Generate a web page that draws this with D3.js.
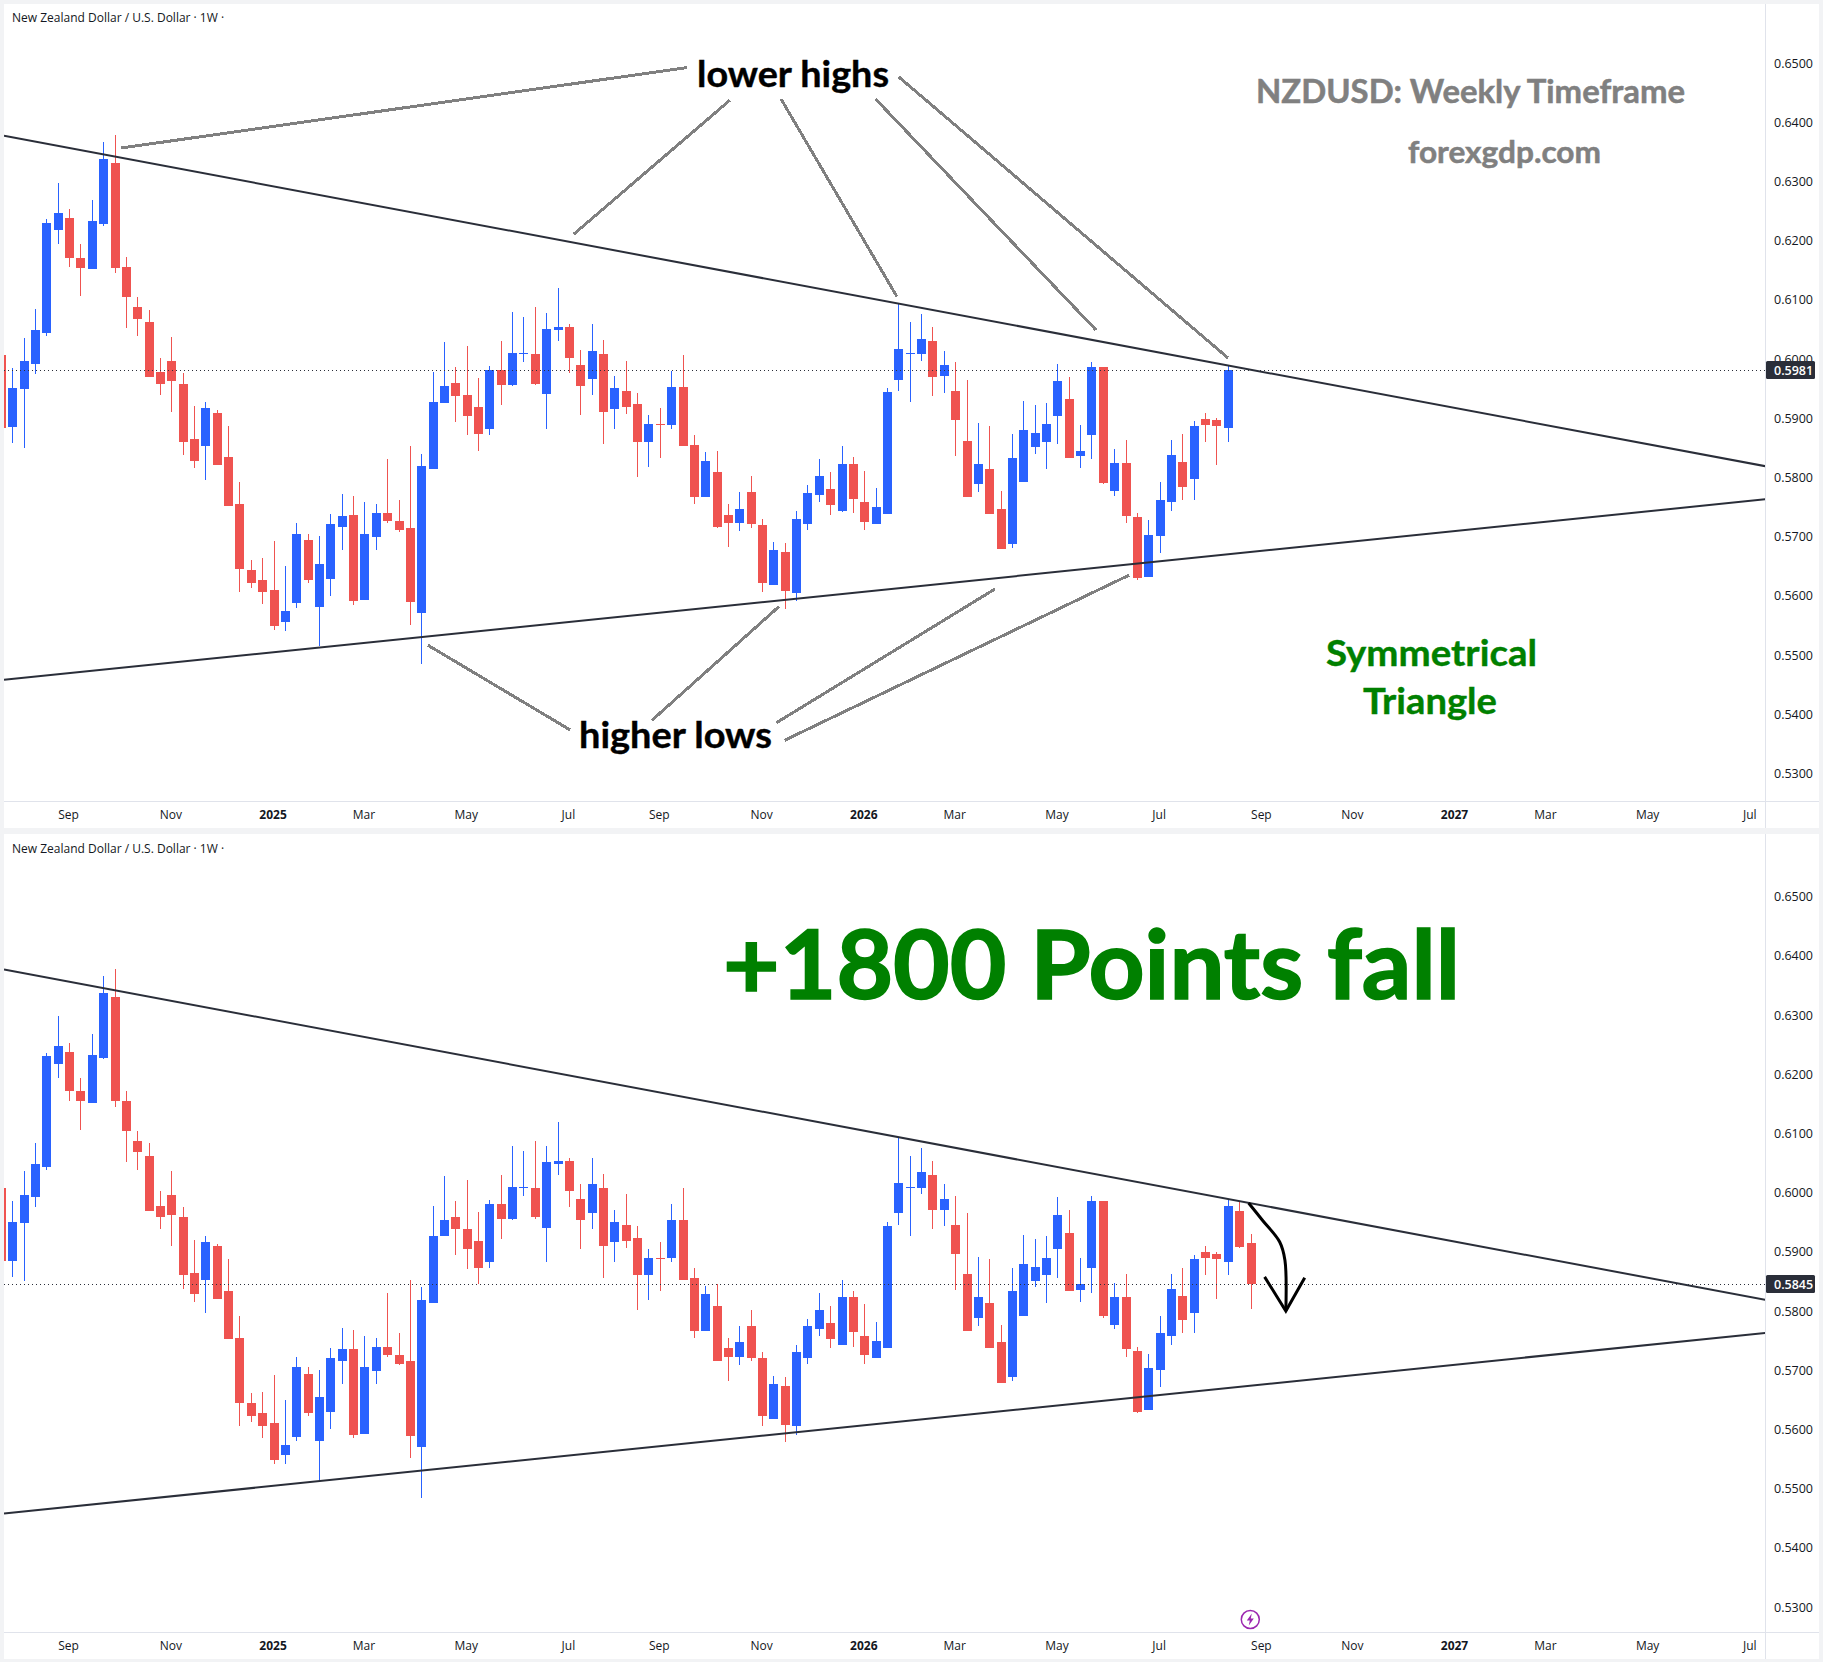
<!DOCTYPE html>
<html><head><meta charset="utf-8">
<style>
html,body{margin:0;padding:0;background:#fff}
svg{display:block}
text{font-family:"Open Sans",sans-serif}
</style>
<script src="https://cdn.jsdelivr.net/npm/d3@7"></script>
</head><body><div id="chart"></div>
<script>
// ---- data (prices x 10000, weekly bars) ----
const highs=[6011,5985,6036,6084,6236,6298,6253,6194,6268,6366,
6378,6172,6104,6083,6002,6037,5976,5920,5927,5914,
5887,5792,5661,5664,5692,5650,5723,5705,5701,5738,
5772,5768,5758,5755,5831,5762,5853,5840,5978,6028,
5986,6022,5968,5988,6030,6079,6071,6088,6078,6120,
6059,6015,6059,6032,5971,5997,5943,5905,5917,5980,
6007,5872,5843,5845,5755,5775,5802,5730,5691,5689,
5743,5787,5831,5809,5853,5834,5811,5782,5951,6093,
6062,6076,6054,6014,5995,5965,5892,5887,5777,5873,
5929,5922,5926,5992,5970,5889,5995,5986,5848,5863,
5740,5728,5792,5863,5873,5895,5909,5900,5988,5985,5930];
const lows=[5880,5858,5850,5975,6039,6194,6155,6106,6152,6225,
6145,6052,6039,5969,5939,5910,5838,5816,5796,5821,
5752,5606,5613,5586,5542,5541,5580,5622,5515,5600,
5677,5585,5593,5677,5723,5708,5551,5484,5814,5926,
5894,5871,5845,5872,5922,5954,5995,5956,5882,6030,
5976,5905,5939,5856,5882,5907,5801,5818,5833,5882,
5853,5755,5767,5715,5682,5709,5715,5606,5618,5578,
5591,5711,5758,5737,5742,5740,5711,5721,5738,5946,
5927,5997,5938,5943,5836,5767,5775,5738,5679,5681,
5792,5840,5814,5856,5833,5816,5831,5789,5769,5723,
5627,5632,5672,5743,5762,5762,5860,5821,5860,5907,5804];
const opens=[6007,5885,5949,5992,6044,6218,6238,6171,6152,6228,
6331,6155,6087,6062,5978,5996,5958,5865,5853,5909,
5834,5755,5644,5627,5610,5556,5588,5694,5581,5629,
5716,5736,5593,5699,5740,5726,5715,5571,5814,5926,
5959,5939,5919,5882,5981,5956,6009,6008,5941,6049,
6054,5990,5966,6008,5916,5946,5924,5860,5890,5889,
5953,5855,5767,5809,5737,5723,5775,5720,5618,5674,
5605,5721,5770,5780,5743,5823,5758,5721,5738,5965,
6008,6008,6030,5971,5946,5862,5789,5814,5747,5688,
5792,5851,5860,5904,5932,5836,5872,5986,5777,5824,
5733,5632,5701,5758,5826,5797,5899,5897,5883,5969,5915];
const closes=[5884,5951,5996,6049,6230,6247,6171,6154,6233,6338,
6154,6104,6068,5969,5958,5963,5860,5828,5917,5821,
5752,5645,5622,5606,5549,5574,5705,5627,5654,5721,
5735,5591,5705,5740,5726,5711,5589,5819,5927,5954,
5938,5904,5873,5981,5956,6010,6010,5958,6051,6054,
6002,5954,6014,5910,5951,5919,5860,5890,5889,5953,
5853,5767,5828,5716,5723,5747,5721,5622,5677,5608,
5730,5774,5802,5753,5823,5764,5725,5750,5944,6017,
6010,6034,5970,5990,5897,5767,5823,5738,5679,5833,
5880,5875,5890,5963,5833,5845,5986,5791,5824,5735,
5630,5703,5762,5838,5784,5887,5889,5887,5977,5908,5845];
const topLastBar=108, topBar108Close=5981, bottomLastBar=110, bottomBar108Close=5977;
const topLastPrice=0.5981, bottomLastPrice=0.5845;
const priceTicks=[0.65,0.64,0.63,0.62,0.61,0.60,0.59,0.58,0.57,0.56,0.55,0.54,0.53];
const timeTickBars=[6,15,24,32,41,50,58,67,76,84,93,102,111,119,128,136,145,154];
const timeTickLabels=["Sep","Nov","2025","Mar","May","Jul","Sep","Nov","2026","Mar","May","Jul","Sep","Nov","2027","Mar","May","Jul"];
const boldTicks=["2025","2026","2027"];
// trend lines and pointer lines: [bar, price, bar, price]
const trendLines=[[0.27,0.6377,155.3,0.5819],[0.27,0.5458,155.3,0.5763]];
const pointerLines=[[10.59,.63564,60.37,.64922],[50.41,.62106,64.16,.6437],[78.88,.61052,68.67,.64392],
[76.99,.64392,96.40,.6049],[79.04,.64764,108.02,.60017],[37.58,.55166,50.09,.53736],
[68.49,.55819,57.29,.53894],[87.50,.56115,68.26,.53855],[99.30,.56348,68.98,.53559]];
// ---- layout ----
const W=1828,H=1662,paneL=4,paneR=1765,paneEnd=1819;
const GAP="#f2f3f5",SEP="#e0e3eb",UP="#2962FF",DOWN="#EF5350",INK="#131722",TAG="#2a2e39";
const svg=d3.select("#chart").append("svg").attr("width",W).attr("height",H);
svg.append("rect").attr("width",1823).attr("height",H).attr("fill",GAP);
const x=d3.scaleLinear().domain([1,108]).range([12.3,1227.8]);
const defs=svg.append("defs");
function panel(id,top,bottom,axisY,y0,lastBar,bar108Close,lastPrice,titleY){
  const y=d3.scaleLinear().domain([0.6,0.5]).range([y0,y0+592]);
  svg.append("rect").attr("x",paneL).attr("y",top).attr("width",paneEnd-paneL).attr("height",bottom-top).attr("fill","#fff");
  defs.append("clipPath").attr("id",id).append("rect").attr("x",paneL).attr("y",top).attr("width",paneR-paneL).attr("height",axisY-top);
  const g=svg.append("g").attr("clip-path",`url(#${id})`);
  const idx=d3.range(lastBar+1);
  const closeOf=i=>i===108?bar108Close:closes[i];
  const color=i=>closeOf(i)>=opens[i]?UP:DOWN;
  const cs=g.append("g").attr("shape-rendering","crispEdges");
  cs.selectAll("rect.w").data(idx).join("rect").attr("class","w")
    .attr("x",i=>Math.round(x(i))).attr("width",1)
    .attr("y",i=>Math.round(y(highs[i]/1e4))).attr("height",i=>Math.max(1,Math.round(y(lows[i]/1e4))-Math.round(y(highs[i]/1e4))))
    .attr("fill",color);
  cs.selectAll("rect.b").data(idx).join("rect").attr("class","b")
    .attr("x",i=>Math.round(x(i))-4).attr("width",9)
    .attr("y",i=>Math.round(y(Math.max(opens[i],closeOf(i))/1e4)))
    .attr("height",i=>Math.max(1,Math.round(y(Math.min(opens[i],closeOf(i))/1e4))-Math.round(y(Math.max(opens[i],closeOf(i))/1e4))))
    .attr("fill",color);
  g.append("line").attr("x1",paneL).attr("x2",paneR).attr("y1",Math.round(y(lastPrice))+.5).attr("y2",Math.round(y(lastPrice))+.5)
    .attr("stroke",TAG).attr("stroke-width",1).attr("stroke-dasharray","1 3");
  g.selectAll("line.t").data(trendLines).join("line").attr("class","t")
    .attr("x1",d=>x(d[0])).attr("y1",d=>y(d[1])).attr("x2",d=>x(d[2])).attr("y2",d=>y(d[3]))
    .attr("stroke",TAG).attr("stroke-width",2);
  // separators
  svg.append("rect").attr("x",paneR).attr("y",top).attr("width",1).attr("height",bottom-top).attr("fill",SEP);
  svg.append("rect").attr("x",paneL).attr("y",axisY).attr("width",paneEnd-paneL).attr("height",1).attr("fill",SEP);
  // price axis
  const ay=svg.append("g").attr("transform",`translate(${paneR},0)`)
    .call(d3.axisRight(y).tickValues(priceTicks).tickFormat(d3.format(".4f")).tickSize(0).tickPadding(9));
  ay.select(".domain").remove();
  ay.selectAll("text").attr("fill",INK).style("font-size","12.5px").style("font-family",'"Open Sans"');
  // time axis
  const ax=svg.append("g").attr("transform",`translate(-1,${axisY})`)
    .call(d3.axisBottom(x).tickValues(timeTickBars).tickFormat((d,i)=>timeTickLabels[i]).tickSize(0).tickPadding(9));
  ax.select(".domain").remove();
  ax.selectAll("text").attr("fill",INK).style("font-size","12px").style("font-family",'"Open Sans"')
    .style("font-weight",d=>boldTicks.includes(timeTickLabels[timeTickBars.indexOf(d)])?700:400);
  // last price tag
  const ty=Math.round(y(lastPrice));
  svg.append("rect").attr("x",paneR+1).attr("y",ty-9).attr("width",49).attr("height",18).attr("rx",1.5).attr("fill",TAG);
  svg.append("text").attr("x",paneR+9).attr("y",ty+.5).attr("dy",".36em").attr("fill","#fff").style("font-size","12.5px")
    .style("font-weight",600).text(d3.format(".4f")(lastPrice));
  // title
  svg.append("text").attr("x",12).attr("y",titleY).attr("fill",INK).style("font-size","12px")
    .text("New Zealand Dollar / U.S. Dollar · 1W ·");
  return {y,g};
}
const top1=panel("p1",4,828,801,359,topLastBar,topBar108Close,topLastPrice,22);
const top2=panel("p2",834,1659,1632,1192.6,bottomLastBar,bottomBar108Close,bottomLastPrice,853);
// pointer lines (top pane)
const yT=top1.y;
svg.append("g").attr("shape-rendering","crispEdges").selectAll("line").data(pointerLines).join("line")
  .attr("x1",d=>x(d[0])).attr("y1",d=>yT(d[1])).attr("x2",d=>x(d[2])).attr("y2",d=>yT(d[3]))
  .attr("stroke","#808080").attr("stroke-width",3);
// labels: [text,x,baseline,width,size,colour,extra stroke]
const notes=[
 ["lower highs",697,86.7,192,36,"#000",0.4],
 ["higher lows",579,747.8,193,36,"#000",0.4],
 ["NZDUSD: Weekly Timeframe",1256,102.7,429,32,"#808080",0.5],
 ["forexgdp.com",1408,163.3,193,30,"#808080",0.5],
 ["Symmetrical",1326,666,211,36,"#008000",0.4],
 ["Triangle",1363,713.5,134,36,"#008000",0.4],
 ["+1800 Points fall",723,999,737,95,"#008000",1.6]];
svg.append("g").selectAll("text").data(notes).join("text")
  .attr("x",d=>d[1]).attr("y",d=>d[2]).attr("textLength",d=>d[3]).attr("lengthAdjust","spacingAndGlyphs")
  .attr("fill",d=>d[5]).attr("stroke",d=>d[5]).attr("stroke-width",d=>d[6])
  .style("font-size",d=>d[4]+"px").style("font-family",'Lato,"Open Sans"').style("font-weight",700)
  .text(d=>d[0]);
// drop arrow (bottom pane), bar/price pairs
const yB=top2.y;
const arrowCurve=[[109.83,.59825],[111.05,.59533],[112.57,.59166],[113.03,.58857],[113.11,.58]];
const arrowHead=[[111.24,.58577],[113.11,.58],[114.77,.5856]];
svg.append("path").attr("d",d3.line().x(d=>x(d[0])).y(d=>yB(d[1])).curve(d3.curveCatmullRom)(arrowCurve)).attr("fill","none").attr("stroke","#000").attr("stroke-width",3);
svg.append("path").attr("d",d3.line().x(d=>x(d[0])).y(d=>yB(d[1]))(arrowHead)).attr("fill","none").attr("stroke","#000").attr("stroke-width",3);
// event icon
const ic=svg.append("g").attr("transform",`translate(${x(109.98)},1619.5)`);
ic.append("circle").attr("r",9).attr("fill","#fff").attr("stroke","#9c27b0").attr("stroke-width",1.5);
ic.append("path").attr("d","M1.5,-6 L-3.5,1 L-0.5,1 L-1.5,6 L3.5,-1 L0.5,-1 Z").attr("fill","#9c27b0");
</script></body></html>
